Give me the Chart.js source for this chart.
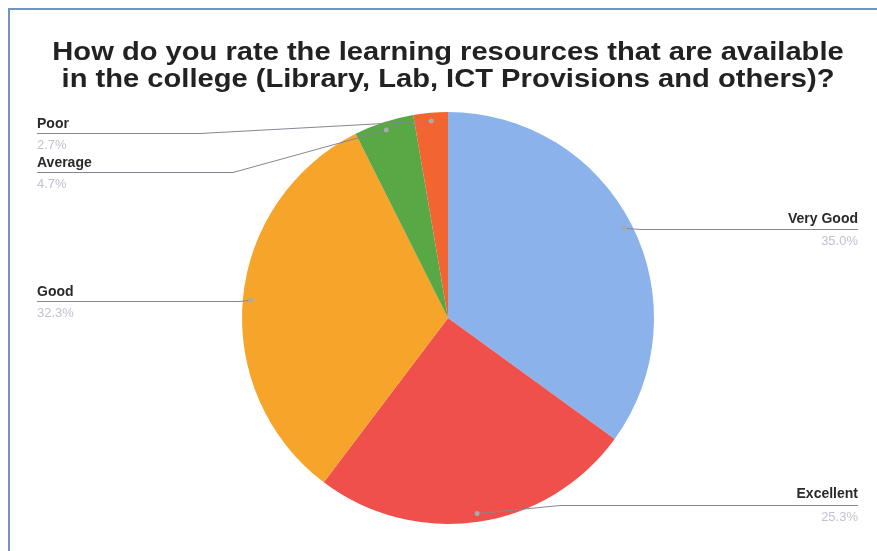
<!DOCTYPE html>
<html>
<head>
<meta charset="utf-8">
<script src="https://cdn.jsdelivr.net/npm/chart.js@4"></script>
<style>
  html, body { margin: 0; padding: 0; background: #fff; }
  #wrap { width: 877px; height: 551px; position: relative; }
</style>
</head>
<body>
<div id="wrap"><canvas id="c" width="877" height="551"></canvas></div>
<script>
const titleLines = ["How do you rate the learning resources that are available", "in the college (Library, Lab, ICT Provisions and others)?"];
const categories = ["Very Good", "Excellent", "Good", "Average", "Poor"];
const percents = [35.0, 25.3, 32.3, 4.7, 2.7];
const percentLabels = ["35.0%", "25.3%", "32.3%", "4.7%", "2.7%"];
const colors = ["#8cb2ec", "#ef504b", "#f7a42a", "#58a846", "#f26531"];

// label layout: side, label-name baseline y, line y, elbow x
const labelLayout = [
  { side: "right", nameY: 223, lineY: 229, elbowX: 640 },
  { side: "right", nameY: 498, lineY: 505, elbowX: 560 },
  { side: "left",  nameY: 296, lineY: 301, elbowX: 240 },
  { side: "left",  nameY: 167, lineY: 172, elbowX: 233 },
  { side: "left",  nameY: 128, lineY: 133, elbowX: 200 }
];

const overlay = {
  id: "overlay",
  beforeDraw(chart) {
    const ctx = chart.ctx;
    ctx.save();
    ctx.fillStyle = "#fff";
    ctx.fillRect(0, 0, chart.width, chart.height);
    ctx.strokeStyle = "#7094bd";
    ctx.lineWidth = 2;
    ctx.beginPath();
    ctx.moveTo(9, chart.height);
    ctx.lineTo(9, 9);
    ctx.lineTo(chart.width, 9);
    ctx.stroke();
    ctx.restore();
  },
  afterDraw(chart) {
    const ctx = chart.ctx;
    ctx.save();
    // title (slightly stretched horizontally to match the scanned original)
    ctx.fillStyle = "#222";
    ctx.font = "bold 26px 'Liberation Sans', Arial, sans-serif";
    ctx.textAlign = "center";
    ctx.textBaseline = "alphabetic";
    ctx.save();
    ctx.translate(448, 0);
    ctx.scale(1.12, 1);
    ctx.fillText(titleLines[0], 0, 60);
    ctx.fillText(titleLines[1], 0, 87);
    ctx.restore();

    const meta = chart.getDatasetMeta(0);
    meta.data.forEach((arc, i) => {
      const p = arc.getProps(["x", "y", "startAngle", "endAngle", "outerRadius"], true);
      const mid = (p.startAngle + p.endAngle) / 2;
      const r = p.outerRadius * 0.96;
      const dx = p.x + Math.cos(mid) * r;
      const dy = p.y + Math.sin(mid) * r;
      const L = labelLayout[i];
      const edgeX = L.side === "left" ? 37 : 858;
      ctx.strokeStyle = "#8a8496";
      ctx.lineWidth = 1;
      ctx.beginPath();
      ctx.moveTo(edgeX, L.lineY + 0.5);
      ctx.lineTo(L.elbowX, L.lineY + 0.5);
      ctx.lineTo(dx, dy);
      ctx.stroke();
      ctx.fillStyle = "#a9a9a9";
      ctx.beginPath();
      ctx.arc(dx, dy, 2.5, 0, Math.PI * 2);
      ctx.fill();

      ctx.textAlign = L.side === "left" ? "left" : "right";
      ctx.fillStyle = "#2a2a2a";
      ctx.font = "bold 14px 'Liberation Sans', Arial, sans-serif";
      ctx.fillText(categories[i], edgeX, L.nameY);
      ctx.fillStyle = "#c3c0d2";
      ctx.font = "13px 'Liberation Sans', Arial, sans-serif";
      ctx.fillText(percentLabels[i], edgeX, L.lineY + 16);
    });
    ctx.restore();
  }
};

new Chart(document.getElementById("c"), {
  type: "pie",
  data: {
    labels: categories,
    datasets: [{
      data: percents,
      backgroundColor: colors,
      borderWidth: 0
    }]
  },
  options: {
    responsive: false,
    animation: false,
    layout: { padding: { top: 112, bottom: 27, left: 19, right: 0 } },
    plugins: {
      legend: { display: false },
      title: { display: false },
      tooltip: { enabled: false }
    }
  },
  plugins: [overlay]
});
</script>
</body>
</html>
